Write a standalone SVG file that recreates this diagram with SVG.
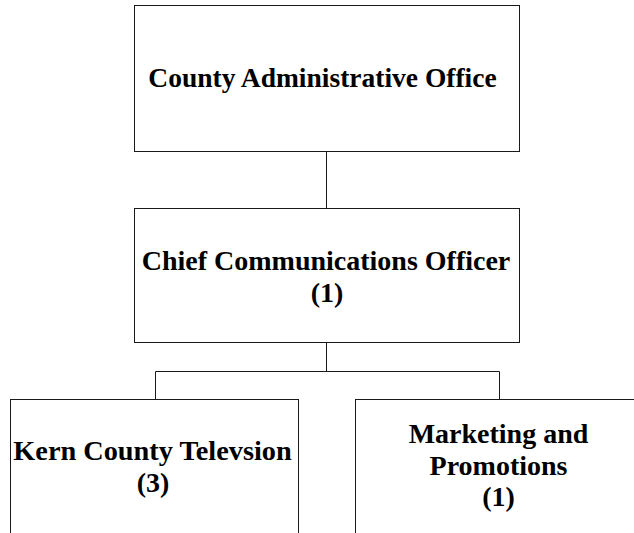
<svg xmlns="http://www.w3.org/2000/svg" width="634" height="533" viewBox="0 0 634 533">
<style>
.box{fill:#fff;stroke:#1a1a1a;stroke-width:1}
.lbl{font-family:"Liberation Serif","Times New Roman",serif;font-weight:bold;font-size:28px;fill:#000;text-anchor:middle}
.conn{fill:none;stroke:#1a1a1a;stroke-width:1}
</style>
<rect width="634" height="533" fill="#fff"/>
<g id="connectors">
<line class="conn" x1="326.5" y1="151" x2="326.5" y2="208"/>
<polyline class="conn" points="326.5,342 326.5,371"/>
<polyline class="conn" points="155.5,399 155.5,371.5 499.5,371.5 499.5,399"/>
</g>
<g id="node-cao">
<rect class="box" x="134.5" y="5.5" width="385" height="146"/>
<text class="lbl" x="322.5" y="87" style="font-size:27.5px">County Administrative Office</text>
</g>
<g id="node-cco">
<rect class="box" x="134.5" y="208.5" width="385" height="134"/>
<text class="lbl" x="326" y="270">Chief Communications Officer</text>
<text class="lbl" x="327" y="301.5">(1)</text>
</g>
<g id="node-kctv">
<rect class="box" x="10.5" y="399.5" width="288" height="150"/>
<text class="lbl" x="152.5" y="460" style="font-size:28.3px">Kern County Televsion</text>
<text class="lbl" x="153" y="491.5">(3)</text>
</g>
<g id="node-mkt">
<rect class="box" x="355.5" y="399.5" width="288" height="150"/>
<text class="lbl" x="498.5" y="443">Marketing and</text>
<text class="lbl" x="498.5" y="474.5">Promotions</text>
<text class="lbl" x="498.5" y="506">(1)</text>
</g>
</svg>
